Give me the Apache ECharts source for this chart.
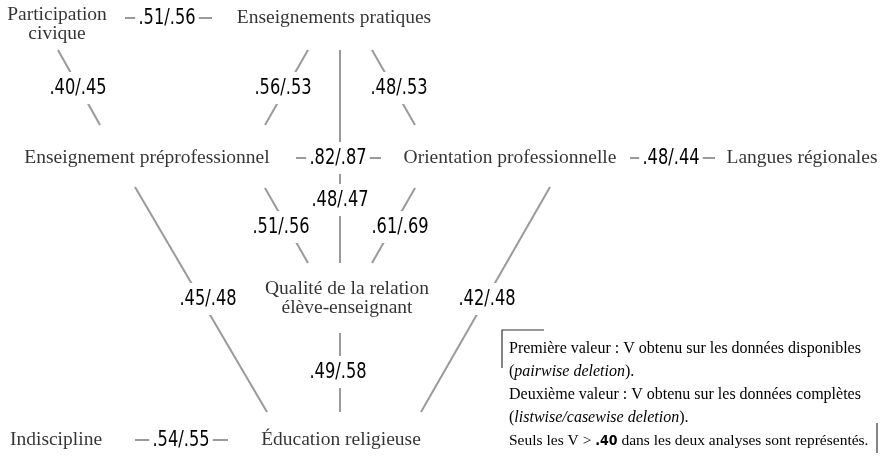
<!DOCTYPE html>
<html>
<head>
<meta charset="utf-8">
<script src="https://cdn.jsdelivr.net/npm/echarts@6/dist/echarts.min.js"></script>
<style>
	html, body { margin: 0; padding: 0; background: #fff; }
	#myChart { width: 891px; height: 456px; }
</style>
</head>
<body>
<div id="myChart"></div>
<script>
// variables (nodes)
var nodeNames = [
	'Participation\ncivique',
	'Enseignements pratiques',
	'Enseignement préprofessionnel',
	'Orientation professionnelle',
	'Langues régionales',
	'Qualité de la relation\nélève-enseignant',
	'Indiscipline',
	'Éducation religieuse'
];
// links: source / target index into nodeNames
var edgeSource = [0, 0, 1, 1, 1, 2, 3, 2, 3, 2, 3, 5, 6];
var edgeTarget = [1, 2, 2, 3, 5, 3, 4, 5, 5, 7, 7, 7, 7];
// V obtained on available data (pairwise) and on complete data (listwise)
var vPairwise = [.51, .40, .56, .48, .48, .82, .48, .51, .61, .45, .42, .49, .54];
var vListwise = [.56, .45, .53, .53, .47, .87, .44, .56, .69, .48, .48, .58, .55];

// layout only (pixel space of the hidden axes)
var nodePos = [[57, 24], [334, 18], [147, 158], [510, 158], [802, 158], [347, 298], [56, 440], [341, 440]];
var edgeLine = [
	[125, 18, 212, 18], [58, 50, 100, 125], [308, 50, 265, 125], [372, 50, 415, 125],
	[340, 50, 340, 263], [296, 158, 381, 158], [630, 158, 715, 158], [265, 188, 308, 263],
	[415, 188, 372, 263], [135, 187, 267, 412], [550, 187, 421, 412], [340, 333, 340, 412],
	[135, 440, 228, 440]
];
var edgeLabelAt = [
	[167, 18], [78, 88], [283, 88], [399, 88], [340, 200], [338, 158], [671, 158], [281, 227],
	[400, 227], [208, 299], [487, 299], [338, 372], [181, 440]
];

function fmt(v) { return v.toFixed(2).slice(1); }

var myChart = echarts.init(document.getElementById('myChart'));

var nodeData = nodeNames.map(function (n, i) {
	return { name: n, value: nodePos[i] };
});
var lineData = edgeLine.map(function (l, i) {
	return { name: nodeNames[edgeSource[i]] + ' - ' + nodeNames[edgeTarget[i]], value: l };
});
var labelData = edgeLabelAt.map(function (p, i) {
	return { name: fmt(vPairwise[i]) + '/' + fmt(vListwise[i]), value: p };
});

var serif = '"Liberation Serif", "Times New Roman", serif';
var narrow = '"DejaVu Sans Condensed", "DejaVu Sans", sans-serif';

var notes = [
	'Première valeur : V obtenu sur les données disponibles',
	'({i|pairwise deletion}).',
	'Deuxième valeur : V obtenu sur les données complètes',
	'({i|listwise/casewise deletion}).',
	'Seuls les V > {b|.40} dans les deux analyses sont représentés.'
];

var option = {
	backgroundColor: '#fff',
	animation: false,
	grid: { left: 0, right: 0, top: 0, bottom: 0 },
	xAxis: { type: 'value', min: 0, max: 891, show: false },
	yAxis: { type: 'value', min: 0, max: 456, inverse: true, show: false },
	series: [{
		name: 'links',
		type: 'custom',
		z: 1,
		data: lineData,
		renderItem: function (params, api) {
			var a = api.coord([api.value(0), api.value(1)]);
			var b = api.coord([api.value(2), api.value(3)]);
			return {
				type: 'line',
				shape: { x1: a[0], y1: a[1], x2: b[0], y2: b[1] },
				style: { stroke: '#9a9a9a', lineWidth: 2 }
			};
		}
	}, {
		name: 'linkLabels',
		type: 'custom',
		z: 2,
		data: labelData,
		renderItem: function (params, api) {
			var p = api.coord([api.value(0), api.value(1)]);
			// condensed look: squeeze the text horizontally around its centre
			return {
				type: 'text',
				x: p[0],
				y: p[1],
				scaleX: 0.82,
				style: {
					text: labelData[params.dataIndex].name,
					x: 0,
					y: 0,
					align: 'center',
					verticalAlign: 'middle',
					fill: '#000',
					font: '22px ' + narrow,
					backgroundColor: '#fff',
					padding: [5, 4]
				}
			};
		}
	}, {
		name: 'nodes',
		type: 'scatter',
		z: 3,
		symbolSize: 0,
		data: nodeData,
		label: {
			show: true,
			position: 'inside',
			formatter: '{b}',
			color: '#000',
			fontFamily: serif,
			fontSize: 19.5,
			lineHeight: 19,
			align: 'center'
		}
	}],
	graphic: [{
		type: 'polyline',
		shape: { points: [[544, 330], [502, 330], [502, 368]] },
		style: { stroke: '#333', lineWidth: 1.2, fill: null }
	}, {
		type: 'line',
		shape: { x1: 877, y1: 423, x2: 877, y2: 453 },
		style: { stroke: '#333', lineWidth: 1.2 }
	}, {
		type: 'group',
		left: 509,
		top: 341,
		children: notes.map(function (t, i) {
			var size = i === 4 ? 15.5 : 16;
			return {
				type: 'text',
				x: 0,
				y: i * 23,
				style: {
					text: t,
					fill: '#000',
					font: size + 'px ' + serif,
					rich: {
						i: { fontStyle: 'italic', fontFamily: serif, fontSize: size, fill: '#000' },
						b: { fontWeight: 'bold', fontFamily: narrow, fontSize: 14, fill: '#000' }
					}
				}
			};
		})
	}]
};
myChart.setOption(option);
</script>
</body>
</html>
